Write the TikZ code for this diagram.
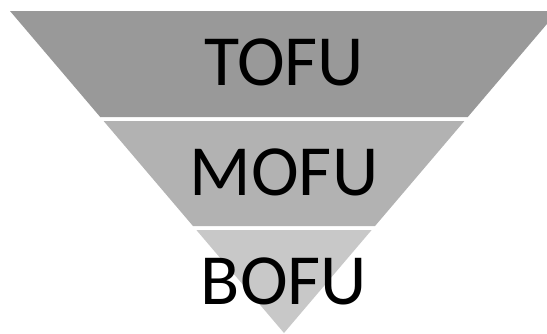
\documentclass[tikz,border=0pt]{standalone}
\usepackage{fontspec}
\setmainfont{Carlito}
\usepackage{tikz}
\usetikzlibrary{calc}
\definecolor{funtop}{HTML}{999999}
\definecolor{funmid}{HTML}{B2B2B2}
\definecolor{funbot}{HTML}{C8C8C8}

\begin{document}
\begin{tikzpicture}[x=1pt,y=-1pt,
    stagelabel/.style={anchor=base, inner sep=0pt, font=\fontsize{72}{86}\selectfont, text=black}]
  \useasboundingbox (0,0) rectangle (547,333);
  \clip (0,0) rectangle (547,333);
  \pgfmathsetmacro{\cx}{284}
  \pgfmathsetmacro{\slope}{0.851}
  % Data: label, top, bottom, colour, baseline
  \foreach \lbl/\ytop/\ybot/\col/\base in {
    TOFU/11/117/funtop/85, MOFU/121/226/funmid/195, BOFU/230/333/funbot/304
  }{
    \pgfmathsetmacro{\wt}{274-\slope*(\ytop-11)}
    \pgfmathsetmacro{\wb}{274-\slope*(\ybot-11)}
    % Band
    \fill[\col] (\cx-\wt,\ytop) -- (\cx+\wt,\ytop) -- (\cx+\wb,\ybot) -- (\cx-\wb,\ybot) -- cycle;
    % Label
    \node[stagelabel] (\lbl) at (\cx,\base) {\lbl};
  }
\end{tikzpicture}
\end{document}
